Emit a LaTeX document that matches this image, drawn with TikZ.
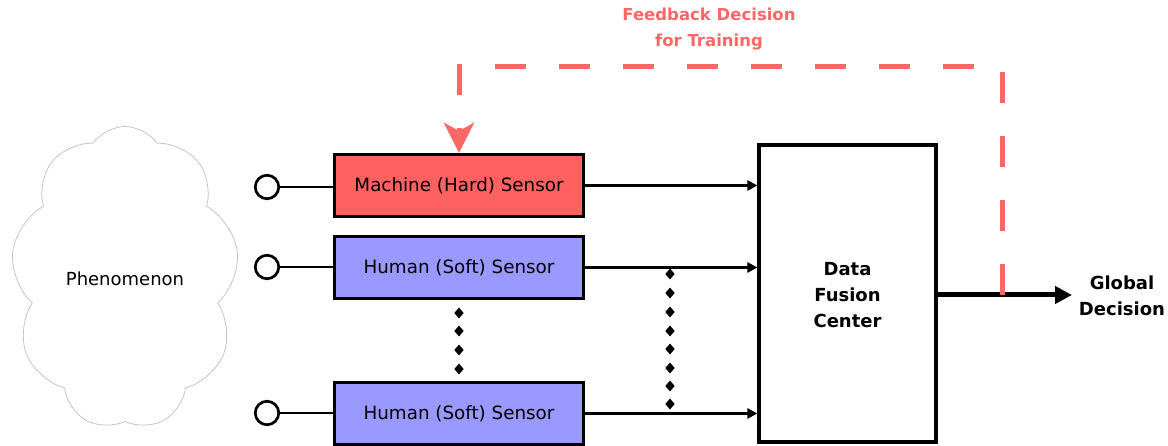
\documentclass[tikz,border=0pt]{standalone}
\usepackage{fontspec}
\setmainfont{DejaVu Sans}
\usetikzlibrary{shapes.symbols,shapes.geometric,arrows.meta}
\definecolor{hardred}{HTML}{FF6161}
\definecolor{softblue}{HTML}{9999FF}
\definecolor{fbred}{HTML}{FF6666}
\definecolor{cloudline}{HTML}{B8C8CC}
\tikzset{
  sensor/.style={draw=black, line width=3.2pt, minimum width=249pt, minimum height=62pt, inner sep=0pt, font=\fontsize{18.3}{22}\selectfont},
  inport/.style={circle, draw=black, fill=white, line width=2.7pt, minimum size=23.5pt, inner sep=0pt},
  feed/.style={line width=2.2pt},
  arr/.style={line width=2.7pt, -{Triangle[length=10pt,width=10pt]}},
  dot/.style={diamond, fill=black, inner sep=0pt, minimum width=9.5pt, minimum height=11pt},
  boldlbl/.style={font=\fontsize{18}{26}\selectfont\bfseries, align=center}
}
\begin{document}
\begin{tikzpicture}[x=1pt,y=-1pt]
\useasboundingbox (0,0) rectangle (1168,446);
% cloud
\node[cloud, draw=cloudline, line width=0.8pt, cloud puffs=9, cloud puff arc=110, aspect=0.75,
      minimum width=228pt, minimum height=303pt, inner sep=0pt] (phen) at (125,278) {};
\node[font=\fontsize{18}{22}\selectfont] (phenl) at (125,279) {Phenomenon};
% sensors
\node[sensor, fill=hardred] (s1) at (459,185.5) {Machine (Hard) Sensor};
\node[sensor, fill=softblue] (s2) at (459,267.5) {Human (Soft) Sensor};
\node[sensor, fill=softblue] (s3) at (459,413.5) {Human (Soft) Sensor};
% input ports
\node[inport] (c1) at (267,187) {};
\node[inport] (c2) at (267,267) {};
\node[inport] (c3) at (267,413) {};
\draw[feed] (c1) -- (c1 -| s1.west);
\draw[feed] (c2) -- (c2 -| s2.west);
\draw[feed] (c3) -- (c3 -| s3.west);
% fusion center
\node[draw=black, line width=3.2pt, fill=white, minimum width=177pt, minimum height=297pt, inner sep=0pt] (dfc) at (847.5,293.5) {};
\node[boldlbl] (dfcl) at (847.5,295) {Data\\Fusion\\Center};
% arrows into DFC
\draw[arr] (s1.east) -- (s1.east -| dfc.west);
\draw[arr] (s2.east) -- (s2.east -| dfc.west);
\draw[arr] (s3.east) -- (s3.east -| dfc.west);
% dots
\node[dot] (l1) at (459,313) {};
\node[dot] (l2) at (459,331) {};
\node[dot] (l3) at (459,350) {};
\node[dot] (l4) at (459,369) {};
\node[dot] (r1) at (670,274) {};
\node[dot] (r2) at (670,293) {};
\node[dot] (r3) at (670,312) {};
\node[dot] (r4) at (670,331) {};
\node[dot] (r5) at (670,349) {};
\node[dot] (r6) at (670,368) {};
\node[dot] (r7) at (670,386) {};
\node[dot] (r8) at (670,404) {};
% output
\node[boldlbl] (gd) at (1122,296) {Global\\Decision};
\coordinate (tip) at (1072,295);
\draw[line width=5pt, -{Triangle[length=17pt,width=17pt]}] (dfc.east |- tip) -- (tip);
% feedback
\coordinate (fbs) at (1002,295);
\coordinate (fbc1) at (1002,67);
\coordinate (fbc2) at (459,67);
\draw[fbred, line width=5pt, dash pattern=on 31pt off 33pt, -{Stealth[length=30pt,width=30pt,inset=8pt]}]
  (fbs) -- (fbc1) -- (fbc2) -- (s1.north);
\node[font=\fontsize{16.5}{26}\selectfont\bfseries, text=fbred, align=center] (fbl) at (709,29) {Feedback Decision\\for Training};
\end{tikzpicture}
\end{document}
